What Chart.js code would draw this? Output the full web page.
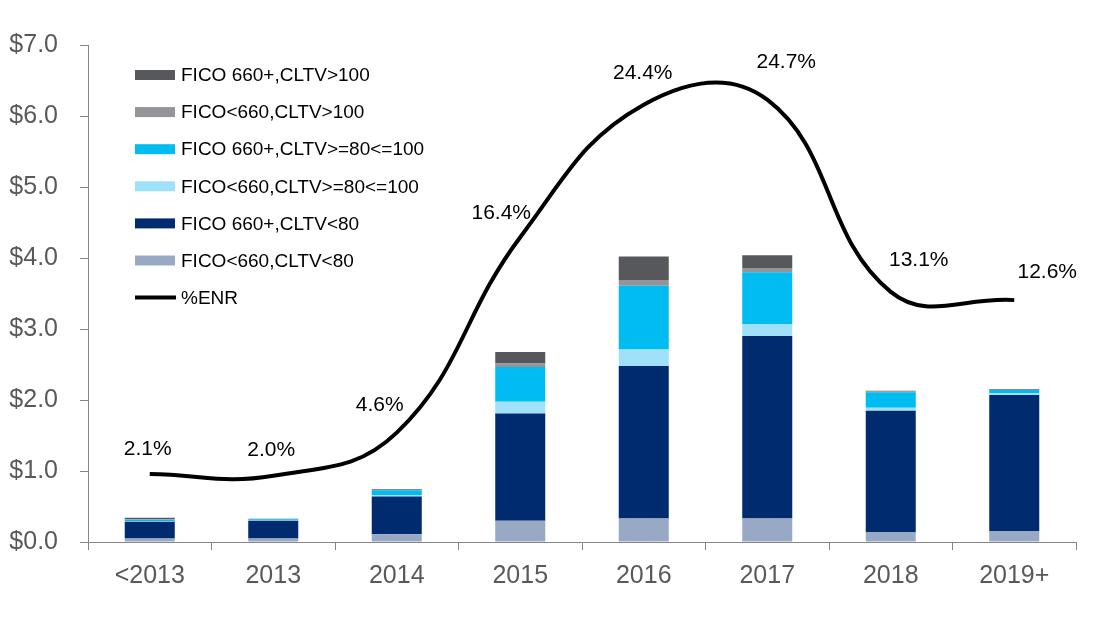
<!DOCTYPE html>
<html>
<head>
<meta charset="utf-8">
<script src="https://cdn.jsdelivr.net/npm/chart.js@4.4.1/dist/chart.umd.min.js"></script>
<style>
  html, body { margin: 0; padding: 0; background: #fff; }
  #wrap { width: 1112px; height: 620px; position: relative; }
</style>
</head>
<body>
<div id="wrap"><canvas id="chart"></canvas></div>
<script>
// categories and values ($ billions, stacked bottom to top)
const years = ['<2013', '2013', '2014', '2015', '2016', '2017', '2018', '2019+'];

const lowFicoLowCltv = [0.05, 0.05, 0.11, 0.30, 0.33, 0.33, 0.14, 0.155];
const highFicoLowCltv = [0.235, 0.25, 0.53, 1.51, 2.15, 2.57, 1.71, 1.915];
const lowFicoMidCltv = [0.01, 0.01, 0.02, 0.165, 0.23, 0.17, 0.04, 0.03];
const highFicoMidCltv = [0.02, 0.01, 0.07, 0.49, 0.90, 0.73, 0.22, 0.04];
const lowFicoHighCltv = [0.005, 0.003, 0.005, 0.05, 0.08, 0.06, 0.01, 0.005];
const highFicoHighCltv = [0.02, 0.005, 0.01, 0.16, 0.33, 0.18, 0.01, 0.01];

const enrPct = [2.1, 2.0, 4.6, 16.4, 24.4, 24.7, 13.1, 12.6];

const yTicks = [0, 1, 2, 3, 4, 5, 6, 7];

// label nudges relative to each line point (style only)
const labelDx = [-2, -2, -17, -19, -1, 19, 28, 33];
const labelDy = [-25, -26, -27, -24, -31, -37, -32, -28];

const axisGray = '#868686';
const textGray = '#595959';
const font = '"Liberation Sans", Arial, sans-serif';

// draws the %ENR labels near each point of the line
const enrLabels = {
  id: 'enrLabels',
  afterDatasetsDraw(chart) {
    const idx = chart.data.datasets.findIndex(d => d.type === 'line');
    const meta = chart.getDatasetMeta(idx);
    const ctx = chart.ctx;
    ctx.save();
    ctx.font = '21px ' + font;
    ctx.fillStyle = '#000';
    ctx.textAlign = 'center';
    ctx.textBaseline = 'middle';
    meta.data.forEach((pt, i) => {
      ctx.fillText(enrPct[i].toFixed(1) + '%', pt.x + labelDx[i], pt.y + labelDy[i]);
    });
    ctx.restore();
  }
};

// legend sits inside the plot, top left, bars listed top of stack first
const insideLegend = {
  id: 'insideLegend',
  afterDraw(chart) {
    const ctx = chart.ctx;
    const bars = chart.data.datasets.filter(d => d.type !== 'line').reverse();
    const lines = chart.data.datasets.filter(d => d.type === 'line');
    const items = bars.concat(lines);
    const x0 = 135, y0 = 75, step = 37.1;
    ctx.save();
    ctx.font = '19px ' + font;
    ctx.textBaseline = 'middle';
    ctx.textAlign = 'left';
    items.forEach((d, i) => {
      const y = y0 + i * step;
      if (d.type === 'line') {
        ctx.strokeStyle = d.borderColor;
        ctx.lineWidth = 4;
        ctx.beginPath();
        ctx.moveTo(x0, y);
        ctx.lineTo(x0 + 41, y);
        ctx.stroke();
      } else {
        ctx.fillStyle = d.backgroundColor;
        ctx.fillRect(x0, y - 5, 40, 10);
      }
      ctx.fillStyle = '#000';
      ctx.fillText(d.label, x0 + 46, y + 1);
    });
    ctx.restore();
  }
};

const barSet = (label, data, color) => ({
  type: 'bar',
  label: label,
  data: data,
  backgroundColor: color,
  yAxisID: 'y',
  order: 1,
  categoryPercentage: 1,
  barPercentage: 0.405
});

new Chart(document.getElementById('chart'), {
  data: {
    labels: years,
    datasets: [
      barSet('FICO<660,CLTV<80', lowFicoLowCltv, '#98A9C6'),
      barSet('FICO 660+,CLTV<80', highFicoLowCltv, '#012B6F'),
      barSet('FICO<660,CLTV>=80<=100', lowFicoMidCltv, '#9EE1F8'),
      barSet('FICO 660+,CLTV>=80<=100', highFicoMidCltv, '#00BCF0'),
      barSet('FICO<660,CLTV>100', lowFicoHighCltv, '#939598'),
      barSet('FICO 660+,CLTV>100', highFicoHighCltv, '#57585B'),
      {
        type: 'line',
        label: '%ENR',
        data: enrPct,
        borderColor: '#000',
        backgroundColor: '#000',
        borderWidth: 4,
        pointRadius: 0,
        tension: 0.42,
        yAxisID: 'y2',
        order: 0
      }
    ]
  },
  options: {
    responsive: true,
    maintainAspectRatio: false,
    animation: false,
    layout: { padding: { left: 6, right: 36, top: 45, bottom: 30 } },
    plugins: {
      legend: { display: false },
      tooltip: { enabled: false }
    },
    scales: {
      x: {
        stacked: true,
        offset: true,
        afterFit: axis => { axis.height = 48; },
        border: { display: true, color: axisGray, width: 1 },
        grid: { offset: true, drawOnChartArea: false, drawTicks: true, tickLength: 8, color: axisGray },
        ticks: { color: textGray, font: { family: font, size: 25 }, padding: 11, maxRotation: 0 }
      },
      y: {
        stacked: true,
        min: 0,
        max: 7,
        afterBuildTicks: axis => { axis.ticks = yTicks.map(v => ({ value: v })); },
        afterFit: axis => { axis.width = 82; },
        border: { display: true, color: axisGray, width: 1 },
        grid: { drawOnChartArea: false, drawTicks: true, tickLength: 8, color: axisGray },
        ticks: {
          color: textGray,
          font: { family: font, size: 25 },
          padding: 22,
          callback: v => '$' + Number(v).toFixed(1)
        }
      },
      y2: {
        display: false,
        min: -2,
        max: 28
      }
    }
  },
  plugins: [enrLabels, insideLegend]
});
</script>
</body>
</html>
